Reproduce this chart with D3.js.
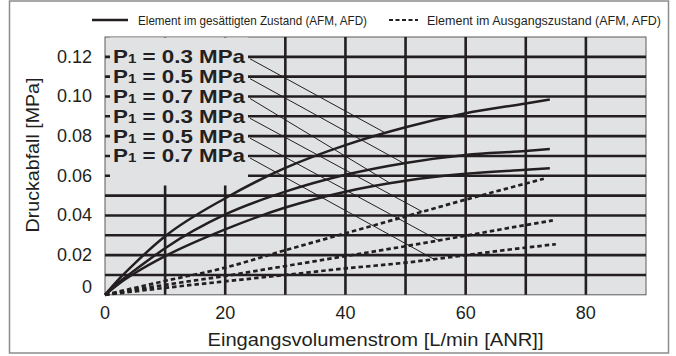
<!DOCTYPE html>
<html><head><meta charset="utf-8">
<script src="https://cdn.jsdelivr.net/npm/d3@7"></script>
<style>body{margin:0;background:#fff}</style>
</head><body><svg id="c" width="676" height="356"></svg>
<script>
// ---- data ----
const satFlow = [0, 2.5, 5, 10, 20, 30, 40, 50, 60, 70, 74];
const sat03 = [0, 0.0085, 0.016, 0.0295, 0.0487, 0.064, 0.0755, 0.0845, 0.0915, 0.0965, 0.0985];
const sat05 = [0, 0.0068, 0.0125, 0.0235, 0.0405, 0.052, 0.0605, 0.0665, 0.0705, 0.0725, 0.0735];
const sat07 = [0, 0.006, 0.011, 0.0195, 0.033, 0.044, 0.052, 0.0575, 0.061, 0.063, 0.0638];
const initFlow03 = [0, 10, 20, 30, 40, 50, 60, 73];
const init03 = [0, 0.007, 0.0137, 0.0225, 0.031, 0.0395, 0.048, 0.0585];
const initFlow05 = [0, 10, 20, 30, 40, 50, 60, 70, 74.5];
const init05 = [0, 0.005, 0.0095, 0.0145, 0.0195, 0.0245, 0.0298, 0.0352, 0.0375];
const initFlow07 = [0, 10, 20, 30, 40, 50, 60, 70, 75];
const init07 = [0, 0.0035, 0.0068, 0.0100, 0.0133, 0.0162, 0.0200, 0.0238, 0.0255];
const xTicks = [0, 20, 40, 60, 80];
const yTicks = [0, 0.02, 0.04, 0.06, 0.08, 0.10, 0.12];
const yTickLabels = ["0", "0.02", "0.04", "0.06", "0.08", "0.10", "0.12"];
const labelPressures = ["0.3", "0.5", "0.7", "0.3", "0.5", "0.7"];
const labelLevels = [0.12, 0.11, 0.10, 0.09, 0.08, 0.07];
const leaderFlow = [46.7, 49.7, 47.5, 52.8, 55.5, 54.7];
const legendTexts = ["Element im gesättigten Zustand (AFM, AFD)", "Element im Ausgangszustand (AFM, AFD)"];
const xTitle = "Eingangsvolumenstrom [L/min [ANR]]";
const yTitle = "Druckabfall [MPa]";

// ---- chart ----
const svg = d3.select("#c");
const X0 = 105, X1 = 646, Y0 = 294.8, Y1 = 37;
const x = d3.scaleLinear().domain([0, 90]).range([X0, X1]);
const y = d3.scaleLinear().domain([0, 0.13]).range([Y0, Y1]);
const ink = "#231f20", bg = "#e1e2e4";
const font = "'Liberation Sans', Arial, sans-serif";

// outer frame
svg.append("rect").attr("x", 9.5).attr("y", 1).attr("width", 659).attr("height", 352)
  .attr("fill", "none").attr("stroke", "#8c8c8c").attr("stroke-width", 1.5);

// plot background
svg.append("rect").attr("x", X0).attr("y", Y1).attr("width", X1 - X0).attr("height", Y0 - Y1)
  .attr("fill", bg).attr("stroke", "#5a5a5a").attr("stroke-width", 1);

// grid
const g = svg.append("g");
g.selectAll(".vg").data(d3.range(10, 90, 10)).join("line")
  .attr("x1", d => x(d)).attr("x2", d => x(d)).attr("y1", Y1).attr("y2", Y0)
  .attr("stroke", ink).attr("stroke-width", 2.6);
g.selectAll(".hg").data(d3.range(1, 13).map(i => i * 0.01)).join("line")
  .attr("x1", X0).attr("x2", X1).attr("y1", d => y(d)).attr("y2", d => y(d))
  .attr("stroke", ink).attr("stroke-width", 2.6);

// label box cover
svg.append("rect").attr("x", 110).attr("y", Y1 + 0.5).attr("width", 138).attr("height", 185 - Y1)
  .attr("fill", bg);

// axes labels
svg.append("g").selectAll("text").data(xTicks).join("text")
  .attr("x", d => x(d)).attr("y", 319).attr("text-anchor", "middle")
  .attr("font-family", font).attr("font-size", 18).attr("fill", ink)
  .text(d => d);
svg.append("g").selectAll("text").data(yTicks).join("text")
  .attr("x", 92).attr("y", (d, i) => y(d) + 6 - (d === 0 ? 8 : 0)).attr("text-anchor", "end")
  .attr("font-family", font).attr("font-size", 18).attr("fill", ink)
  .text((d, i) => yTickLabels[i]);

svg.append("text").attr("x", (X0 + X1) / 2).attr("y", 346).attr("text-anchor", "middle")
  .attr("font-family", font).attr("font-size", 17.5).attr("fill", ink)
  .attr("textLength", 336).attr("lengthAdjust", "spacingAndGlyphs").text(xTitle);
svg.append("text").attr("transform", "translate(39,155) rotate(-90)").attr("text-anchor", "middle")
  .attr("font-family", font).attr("font-size", 17.5).attr("fill", ink)
  .attr("textLength", 155).attr("lengthAdjust", "spacingAndGlyphs").text(yTitle);

// curves
const line = d3.line().x(d => x(d[0])).y(d => y(d[1])).curve(d3.curveMonotoneX);
const satSeries = [sat03, sat05, sat07].map(s => satFlow.map((f, i) => [f, s[i]]));
const initSeries = [[initFlow03, init03], [initFlow05, init05], [initFlow07, init07]]
  .map(([fl, s]) => fl.map((f, i) => [f, s[i]]));
const curves = svg.append("g").attr("fill", "none");
curves.selectAll(".s").data(satSeries).join("path")
  .attr("d", line).attr("stroke", ink).attr("stroke-width", 2.5);
curves.selectAll(".d").data(initSeries).join("path")
  .attr("d", line).attr("stroke", ink).attr("stroke-width", 2.7).attr("stroke-dasharray", "4.5,3");

// labels and leaders
const allSeries = satSeries.concat(initSeries);
function valAt(series, f) {
  for (let i = 1; i < series.length; i++) {
    if (f <= series[i][0]) {
      const a = series[i - 1], b = series[i];
      return a[1] + (b[1] - a[1]) * (f - a[0]) / (b[0] - a[0]);
    }
  }
  return series[series.length - 1][1];
}
const lab = svg.append("g");
labelLevels.forEach((lv, i) => {
  const t = lab.append("text").attr("x", 113).attr("y", y(lv) + 6.5)
    .attr("font-family", font).attr("font-size", 18.5).attr("font-weight", "bold").attr("fill", ink)
    .attr("textLength", 132).attr("lengthAdjust", "spacingAndGlyphs");
  t.append("tspan").text("P");
  t.append("tspan").attr("font-size", 12.5).text("1");
  t.append("tspan").text(" = " + labelPressures[i] + " MPa");
  const f = leaderFlow[i];
  lab.append("line").attr("x1", 250).attr("y1", y(lv) + 2)
    .attr("x2", x(f)).attr("y2", y(valAt(allSeries[i], f)))
    .attr("stroke", ink).attr("stroke-width", 1);
});

// legend
const lg = svg.append("g");
lg.append("line").attr("x1", 92).attr("x2", 128).attr("y1", 20).attr("y2", 20)
  .attr("stroke", ink).attr("stroke-width", 2.5);
lg.append("text").attr("x", 138).attr("y", 25).attr("font-family", font)
  .attr("font-size", 12.8).attr("fill", ink).attr("textLength", 229).attr("lengthAdjust", "spacingAndGlyphs")
  .text(legendTexts[0]);
lg.append("line").attr("x1", 389).attr("x2", 418).attr("y1", 20).attr("y2", 20)
  .attr("stroke", ink).attr("stroke-width", 1.8).attr("stroke-dasharray", "4,2.5");
lg.append("text").attr("x", 427).attr("y", 25).attr("font-family", font)
  .attr("font-size", 12.5).attr("fill", ink).attr("textLength", 234).attr("lengthAdjust", "spacingAndGlyphs")
  .text(legendTexts[1]);
</script></body></html>
